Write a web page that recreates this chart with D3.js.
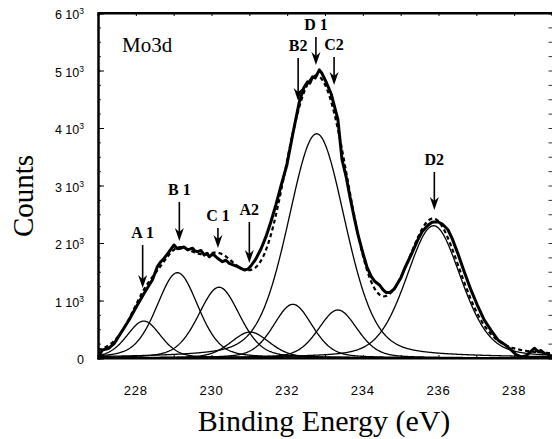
<html lang="en">
<head>
<meta charset="UTF-8">
<title>Mo3d XPS</title>
<script src="https://d3js.org/d3.v7.min.js"></script>
<style>
  body { margin: 0; background: #fff; }
  .tick line { stroke: #000; }
  .domain { stroke: #000; stroke-width: 2; }
  .ylab, .xlab { font-family: "Liberation Sans", Arial, sans-serif; fill: #000; }
  .title { font-family: "Liberation Serif", "DejaVu Serif", serif; fill: #000; }
  .peak { font-family: "Liberation Serif", "DejaVu Serif", serif; font-weight: bold; fill: #000; }
</style>
</head>
<body>
<svg width="552" height="439"></svg>
<script>
// measured spectrum (binding energy, counts)
var dataE = [227.0, 227.12, 227.29, 227.43, 227.60, 227.82, 228.04, 228.22, 228.44, 228.57,
  228.66, 228.75, 228.88, 229.01, 229.10, 229.19, 229.27, 229.37, 229.50, 229.56,
  229.63, 229.72, 229.81, 229.88, 229.94, 230.01, 230.07, 230.16, 230.29, 230.38,
  230.47, 230.57, 230.69, 230.78, 230.87, 230.96, 231.04, 231.17, 231.31, 231.44,
  231.57, 231.70, 231.84, 231.99, 232.15, 232.32, 232.44, 232.54, 232.60, 232.67,
  232.74, 232.85, 232.92, 233.03, 233.16, 233.34, 233.45, 233.56, 233.66, 233.78,
  233.87, 234.00, 234.11, 234.22, 234.32, 234.44, 234.53, 234.61, 234.72, 234.83,
  235.01, 235.10, 235.28, 235.45, 235.57, 235.72, 235.83, 235.98, 236.10, 236.25,
  236.36, 236.51, 236.68, 236.86, 237.02, 237.21, 237.39, 237.57, 237.74, 237.92,
  238.05, 238.19, 238.32, 238.45, 238.54, 238.63, 238.71, 238.80, 238.90, 239.0];
var dataCounts = [25, 140, 170, 255, 430, 660, 920, 1125, 1360, 1590,
  1675, 1735, 1850, 1965, 1900, 1910, 1930, 1880, 1910, 1860,
  1850, 1870, 1790, 1820, 1760, 1800, 1790, 1735, 1675, 1700,
  1645, 1620, 1590, 1560, 1530, 1545, 1600, 1720, 1900, 2110,
  2370, 2660, 3000, 3350, 3900, 4450, 4700, 4805, 4780, 4890,
  4870, 5010, 4950, 4800, 4600, 4150, 3450, 3150, 2800, 2420,
  2150, 1830, 1580, 1420, 1330, 1270, 1190, 1140, 1140, 1200,
  1400, 1550, 1800, 2050, 2200, 2310, 2360, 2370, 2330, 2230,
  2080, 1820, 1500, 1180, 930, 660, 480, 315, 240, 140,
  60, 20, 40, 120, 170, 110, 130, 80, 70, 20];

// fitted components
var peakNames   = ["A1", "B1", "C1", "A2", "B2", "D1", "C2", "D2"];
var peakCenters = [228.21, 229.10, 230.20, 231.02, 232.15, 232.78, 233.34, 235.87];
var peakHeights = [643, 1484, 1230, 450, 934, 3900, 835, 2300];
var peakFwhm    = [1.06, 1.30, 1.30, 1.22, 1.22, 1.80, 1.22, 1.72];
var lorentzMix = 0.3;

// arrows: label, energy, tip and tail (counts)
var arrowLabels = ["A 1", "B 1", "C 1", "A2", "B2", "D 1", "C2", "D2"];
var arrowE      = [228.18, 229.15, 230.17, 231.00, 232.29, 232.76, 233.24, 235.89];
var arrowTip    = [1217, 2035, 1913, 1652, 4470, 5096, 4748, 2574];
var arrowTail   = [1965, 2713, 2261, 2365, 5217, 5583, 5235, 3235];

var xTicks = [228, 230, 232, 234, 236, 238];
var yTicks = [0, 1000, 2000, 3000, 4000, 5000, 6000];
var yTickMant = ["0", "1", "2", "3", "4", "5", "6"];

var svg = d3.select("svg");
var x = d3.scaleLinear().domain([227, 239]).range([98, 552]);
var y = d3.scaleLinear().domain([0, 6000]).range([358, 13]);

svg.append("clipPath").attr("id", "clip")
  .append("rect").attr("x", 98).attr("y", 13).attr("width", 454).attr("height", 345);

// axes
svg.append("g").attr("transform", "translate(98,0)")
  .call(d3.axisLeft(y).tickValues(d3.range(0, 6001, 250)).tickSize(-3).tickFormat(""))
  .call(function (g) { g.selectAll(".tick line").attr("stroke-width", 0.8); });
svg.append("g").attr("transform", "translate(98,0)")
  .call(d3.axisLeft(y).tickValues(yTicks).tickSize(-6).tickFormat(""));
svg.append("g").attr("transform", "translate(552.5,0)")
  .call(d3.axisRight(y).tickValues(d3.range(0, 6001, 250)).tickSize(-4).tickFormat(""))
  .call(function (g) { g.selectAll(".tick line").attr("stroke-width", 0.8); });
svg.append("g").attr("transform", "translate(0,358)")
  .call(d3.axisBottom(x).tickValues(d3.range(227, 240, 1)).tickSize(-3).tickFormat(""));
svg.append("g").attr("transform", "translate(0,13)")
  .call(d3.axisTop(x).tickValues(d3.range(227, 240, 1)).tickSize(-3).tickFormat(""));

// y tick labels with superscript
yTicks.forEach(function (v, i) {
  var t = svg.append("text").attr("class", "ylab")
    .attr("x", 84).attr("y", y(v) + 6)
    .attr("text-anchor", "end").style("font-size", "12.5px");
  if (v === 0) { t.text(yTickMant[i]); return; }
  t.append("tspan").text(yTickMant[i] + " 10");
  t.append("tspan").attr("dy", -5).style("font-size", "8.5px").text("3");
});

svg.selectAll(".xlab").data(xTicks).enter().append("text")
  .attr("class", "xlab")
  .attr("x", function (d) { return x(d); })
  .attr("y", 395)
  .attr("text-anchor", "middle")
  .style("font-size", "13px")
  .style("letter-spacing", "0.8px")
  .text(function (d) { return d; });

// titles
svg.append("text").attr("class", "title")
  .attr("x", 324).attr("y", 431).attr("text-anchor", "middle")
  .style("font-size", "30px").text("Binding Energy (eV)");
svg.append("text").attr("class", "title")
  .attr("transform", "translate(33,196) rotate(-90)").attr("text-anchor", "middle")
  .style("font-size", "29px").text("Counts");
svg.append("text").attr("class", "title")
  .attr("x", 122).attr("y", 52)
  .style("font-size", "21px").text("Mo3d");

// component curves
function pv(e, i) {
  var d = e - peakCenters[i], f = peakFwhm[i];
  var g = Math.exp(-4 * Math.LN2 * d * d / (f * f));
  var l = 1 / (1 + 4 * d * d / (f * f));
  return peakHeights[i] * ((1 - lorentzMix) * g + lorentzMix * l);
}
var grid = d3.range(227, 239.001, 0.02);
var line = d3.line().x(function (d) { return x(d[0]); }).y(function (d) { return y(d[1]); });
var plot = svg.append("g").attr("clip-path", "url(#clip)");

peakNames.forEach(function (name, i) {
  plot.append("path")
    .datum(grid.map(function (e) { return [e, pv(e, i)]; }))
    .attr("fill", "none").attr("stroke", "#000").attr("stroke-width", 1.3)
    .attr("d", line);
});

// fitted envelope (dashed)
plot.append("path")
  .datum(grid.map(function (e) {
    return [e, d3.sum(peakNames, function (n, i) { return pv(e, i); })];
  }))
  .attr("fill", "none").attr("stroke", "#000").attr("stroke-width", 2.2)
  .attr("stroke-dasharray", "4,3")
  .attr("d", line);

// measured data
plot.append("path")
  .datum(dataE.map(function (e, i) { return [e, dataCounts[i]]; }))
  .attr("fill", "none").attr("stroke", "#000").attr("stroke-width", 3)
  .attr("stroke-linejoin", "round")
  .attr("d", line);

// frame lines
svg.append("line").attr("x1", 98).attr("x2", 552).attr("y1", 13).attr("y2", 13)
  .attr("stroke", "#000").attr("stroke-width", 2);

// arrows
arrowLabels.forEach(function (lab, i) {
  var ax = x(arrowE[i]), ty = y(arrowTip[i]), sy = y(arrowTail[i]);
  svg.append("line").attr("x1", ax).attr("x2", ax).attr("y1", sy).attr("y2", ty - 6)
    .attr("stroke", "#000").attr("stroke-width", 1.6);
  svg.append("path")
    .attr("d", "M" + ax + "," + ty + "L" + (ax - 4.5) + "," + (ty - 13) +
      "L" + ax + "," + (ty - 9) + "L" + (ax + 4.5) + "," + (ty - 13) + "Z")
    .attr("fill", "#000");
  svg.append("text").attr("class", "peak")
    .attr("x", ax).attr("y", sy - 7).attr("text-anchor", "middle")
    .style("font-size", "16px").text(lab);
});
</script>
</body>
</html>
